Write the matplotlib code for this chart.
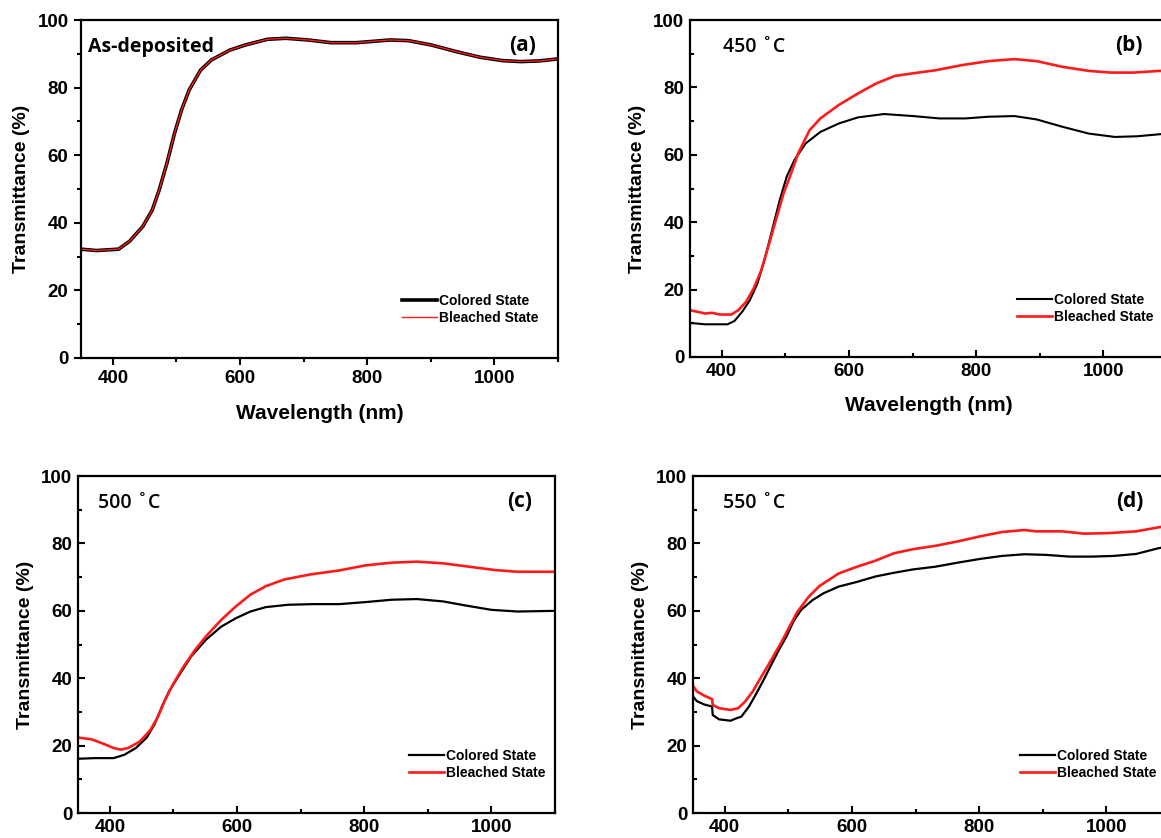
import matplotlib
matplotlib.use("Agg")
import matplotlib.pyplot as plt
from matplotlib.ticker import MultipleLocator

plt.rcParams['font.family'] = ['Liberation Sans', 'DejaVu Sans']
plt.rcParams['font.weight'] = 'bold'

# (a) as-deposited
wl_a = [350, 374, 409, 426, 447, 462, 473, 485, 497, 508, 520, 538, 555, 584, 608, 643, 672,
        707, 743, 783, 836, 865, 901, 941, 977, 1012, 1041, 1070, 1100]
col_a = [32.2, 31.8, 32.2, 34.5, 38.9, 43.8, 49.8, 57.6, 66.5, 73.4, 79.3, 85.2, 88.2, 91.1, 92.6,
         94.3, 94.6, 94.1, 93.3, 93.3, 94.1, 93.9, 92.6, 90.6, 89.0, 88.0, 87.7, 87.9, 88.5]
ble_a = [32.2, 31.8, 32.2, 34.5, 38.9, 43.8, 49.8, 57.6, 66.5, 73.4, 79.3, 85.2, 88.2, 91.1, 92.6,
         94.3, 94.6, 94.1, 93.3, 93.3, 94.1, 93.9, 92.6, 90.6, 89.0, 88.0, 87.7, 87.9, 88.5]

# (b) 450 C
wl_b_col = [350, 374, 409, 420, 432, 444, 456, 467, 479, 491, 502, 514, 532, 555, 584, 614, 655,
            701, 742, 783, 819, 860, 895, 936, 977, 1018, 1053, 1088, 1100]
col_b = [10.1, 9.7, 9.7, 10.7, 13.4, 16.8, 21.8, 28.7, 37.6, 46.5, 53.5, 58.4, 63.4, 66.8, 69.3,
         71.1, 72.1, 71.5, 70.8, 70.8, 71.3, 71.5, 70.5, 68.3, 66.3, 65.3, 65.5, 66.1, 66.3]
wl_b_ble = [350, 374, 385, 397, 415, 426, 438, 450, 462, 473, 485, 497, 509, 520, 538, 555, 584,
            614, 643, 672, 701, 736, 777, 819, 860, 895, 936, 977, 1012, 1047, 1088, 1100]
ble_b = [13.9, 12.9, 13.1, 12.6, 12.6, 13.9, 16.3, 20.3, 25.7, 32.7, 40.6, 48.5, 54.5, 60.4, 67.3,
         70.8, 74.8, 78.2, 81.2, 83.4, 84.2, 85.1, 86.6, 87.8, 88.4, 87.8, 86.1, 84.9, 84.4, 84.4,
         84.9, 85.0]

# (c) 500 C
wl_c_col = [350, 377, 406, 423, 441, 458, 470, 482, 493, 511, 528, 551, 575, 598, 621, 645, 680,
            720, 761, 802, 843, 883, 924, 959, 1000, 1041, 1100]
col_c = [16.1, 16.3, 16.3, 17.3, 19.3, 22.4, 26.2, 31.6, 36.1, 41.5, 46.5, 51.4, 55.3, 57.8, 59.8,
         61.1, 61.8, 62.0, 62.0, 62.6, 63.3, 63.5, 62.8, 61.6, 60.3, 59.8, 60.0]
wl_c_ble = [350, 371, 388, 406, 417, 429, 447, 464, 476, 487, 499, 516, 534, 551, 575, 598, 621,
            645, 674, 715, 761, 802, 843, 883, 924, 965, 1006, 1041, 1100]
ble_c = [22.4, 21.9, 20.7, 19.3, 18.8, 19.3, 21.2, 24.7, 28.7, 33.6, 38.1, 43.5, 48.4, 52.4, 57.3,
         61.3, 64.8, 67.3, 69.3, 70.8, 72.0, 73.5, 74.3, 74.6, 74.1, 73.1, 72.1, 71.6, 71.6]

# (d) 550 C
wl_d_col = [350, 356, 368, 380, 381, 391, 409, 418, 426, 438, 450, 461, 473, 485, 497, 508, 520,
            538, 555, 579, 608, 637, 666, 696, 731, 766, 801, 836, 871, 906, 942, 977, 1012, 1047,
            1082, 1100]
col_d = [34.6, 33.2, 32.2, 31.6, 29.1, 27.8, 27.4, 28.1, 28.6, 31.6, 35.6, 39.5, 44.0, 48.4, 52.4,
         56.9, 60.3, 63.2, 65.2, 67.2, 68.6, 70.2, 71.3, 72.3, 73.1, 74.3, 75.4, 76.3, 76.8, 76.6,
         76.1, 76.1, 76.3, 76.9, 78.6, 79.2]
wl_d_ble = [350, 356, 368, 380, 381, 391, 409, 421, 432, 444, 456, 467, 479, 491, 503, 514, 532,
            549, 579, 608, 637, 666, 696, 731, 766, 801, 836, 871, 889, 930, 965, 1006, 1047, 1082,
            1100]
ble_d = [37.7, 36.1, 34.8, 33.8, 32.1, 31.1, 30.6, 31.1, 33.1, 36.1, 40.0, 43.5, 47.4, 51.4, 55.8,
         59.7, 64.2, 67.4, 71.1, 73.1, 74.9, 77.1, 78.3, 79.3, 80.6, 82.1, 83.4, 84.0, 83.6, 83.6,
         82.9, 83.1, 83.6, 84.8, 85.3]

fig = plt.figure(figsize=(11.61, 8.38), dpi=100)

# name, rect, colored, bleached, line widths, temperature label + x pos, letter x pos,
# legend x, x label shown, tick direction
panels = [
    ('a', [0.0698, 0.5728, 0.4109, 0.4033], (wl_a, col_a), (wl_a, ble_a), (2.6, 1.0),
     'As-deposited', 0.015, 0.897, 0.673, True, 'out'),
    ('b', [0.5943, 0.5740, 0.4109, 0.4021], (wl_b_col, col_b), (wl_b_ble, ble_b), (1.5, 1.9),
     '450 \u02daC', 0.069, 0.891, 0.686, True, 'in'),
    ('c', [0.0672, 0.0298, 0.4109, 0.4021], (wl_c_col, col_c), (wl_c_ble, ble_c), (1.6, 1.9),
     '500 \u02daC', 0.042, 0.900, 0.694, False, 'in'),
    ('d', [0.5969, 0.0298, 0.4109, 0.4021], (wl_d_col, col_d), (wl_d_ble, ble_d), (1.6, 1.9),
     '550 \u02daC', 0.063, 0.886, 0.686, False, 'in'),
]

for name, rect, col, ble, lws, label, lx, nx, legx, show_xlabel, tdir in panels:
    ax = fig.add_axes(rect)
    ax.plot(col[0], col[1], color='black', lw=lws[0], label='Colored State')
    ax.plot(ble[0], ble[1], color='#ff1a1a', lw=lws[1], label='Bleached State')
    ax.set_xlim(350, 1100)
    ax.set_ylim(0, 100)
    ax.xaxis.set_major_locator(MultipleLocator(200))
    ax.xaxis.set_minor_locator(MultipleLocator(100))
    ax.yaxis.set_major_locator(MultipleLocator(20))
    ax.yaxis.set_minor_locator(MultipleLocator(10))
    ax.tick_params(which='both', direction=tdir, width=1.5, labelsize=13.5, pad=4)
    ax.tick_params(which='major', length=5)
    ax.tick_params(which='minor', length=3)
    for s in ax.spines.values():
        s.set_linewidth(1.6)
    for t in ax.get_xticklabels() + ax.get_yticklabels():
        t.set_fontweight('bold')
    ax.set_ylabel('Transmittance (%)', fontsize=14, fontweight='bold', labelpad=5)
    if show_xlabel:
        ax.set_xlabel('Wavelength (nm)', fontsize=15, fontweight='bold', labelpad=12)

    ax.text(lx, 0.92, label, transform=ax.transAxes, fontsize=14, va='center',
            family=['Open Sans', 'DejaVu Sans'], fontweight='bold' if name == 'a' else 'semibold')
    ax.text(nx, 0.925, '(%s)' % name, transform=ax.transAxes, fontsize=15, va='center',
            family=['Open Sans', 'DejaVu Sans'], fontweight='bold')

    ax.legend(loc='upper left', bbox_to_anchor=(legx, 0.19), frameon=False,
              prop={'size': 10, 'weight': 'bold'}, handlelength=2.5, handletextpad=0.15,
              labelspacing=0.2, borderpad=0, borderaxespad=0)

fig.savefig('out.png', dpi=100)
